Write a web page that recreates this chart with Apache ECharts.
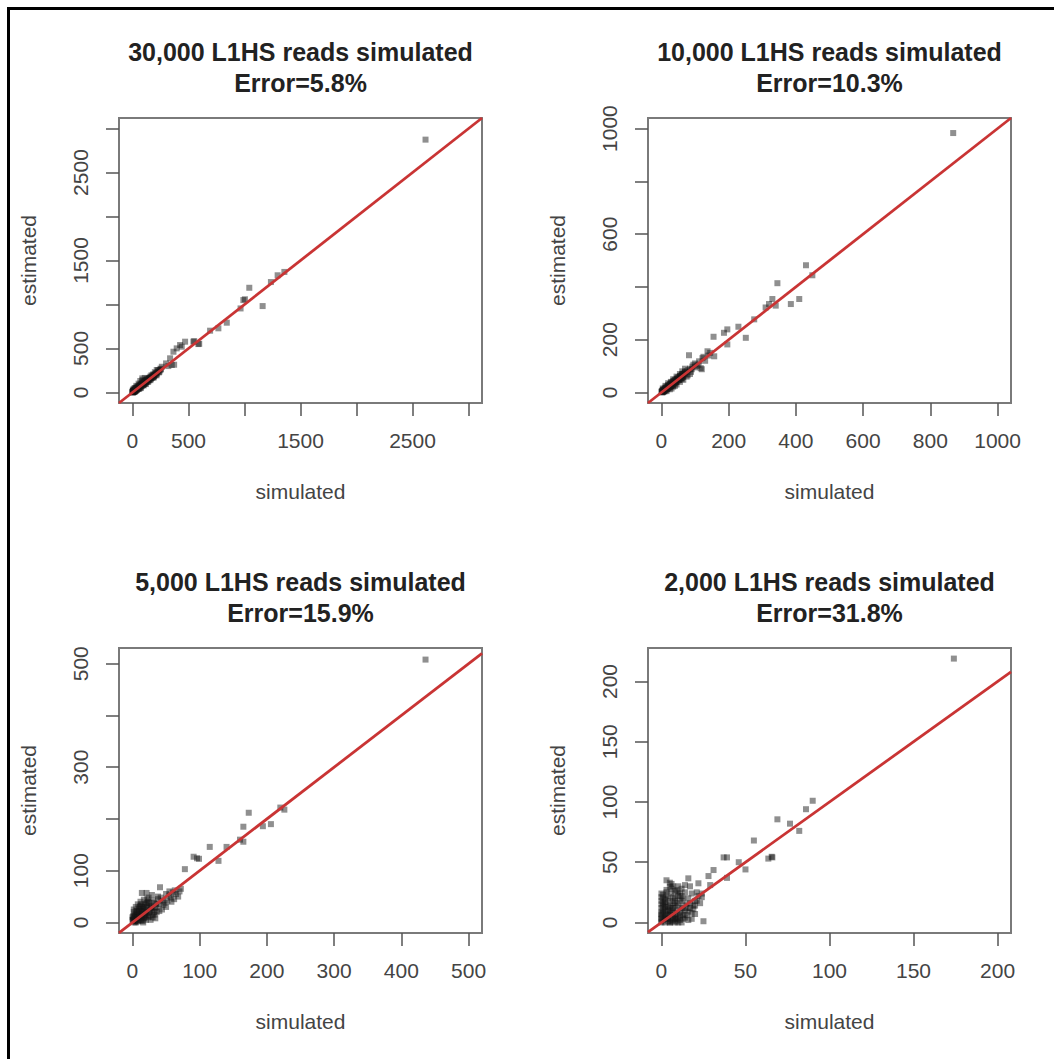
<!DOCTYPE html>
<html><head><meta charset="utf-8">
<script src="https://cdn.jsdelivr.net/npm/echarts@6/dist/echarts.min.js"></script>
<style>html,body{margin:0;padding:0;background:#fff}#c{width:1054px;height:1059px}</style>
</head><body><div id="c"></div>
<script>
// ---- Titles ----
const titleLine1 = ["30,000 L1HS reads simulated","10,000 L1HS reads simulated","5,000 L1HS reads simulated","2,000 L1HS reads simulated"];
const titleLine2 = ["Error=5.8%","Error=10.3%","Error=15.9%","Error=31.8%"];
const xName = "simulated";
const yName = "estimated";

// ---- Axis ticks / labels ----
const ticks1 = [0,500,1000,1500,2000,2500,3000];
const labels1 = [0,500,1500,2500];
const ticks2 = [0,200,400,600,800,1000];
const labels2x = [0,200,400,600,800,1000];
const labels2y = [0,200,600,1000];
const ticks3 = [0,100,200,300,400,500];
const labels3x = [0,100,200,300,400,500];
const labels3y = [0,100,300,500];
const ticks4 = [0,50,100,150,200];
const labels4 = [0,50,100,150,200];

// ---- Axis ranges ----
const xRange1 = [-120,3120], yRange1 = [-120,3120];
const xRange2 = [-40,1040],  yRange2 = [-40,1040];
const xRange3 = [-20,520],   yRange3 = [-20.4,530.4];
const xRange4 = [-8,208],    yRange4 = [-8.76,227.8];

// ---- Data: panel 1 (30,000 reads) ----
const sim30k = [2616,1236,1296,1356,1043,1004,990,965,1162,842,767,693,596,588,551,544,470,425,395,366,440,351,372,336,320,300,262,250,240,230,217,210,200,195,185,180,170,165,160,150,145,140,130,125,120,115,110,105,100,95,90,88,85,80,75,70,65,60,55,50,48,45,40,38,35,30,28,25,22,20,18,15,12,10,8,6,5,3,2,1,4,0,10,20,35,55,70,90,110,60,75,100,120,140,160,190,215,
  3,7,11,14,17,21,24,27,31,34,37,42,46,52,57,63,67,72,78,83,87,93,98,103,108,113,118,123,128,133,138,143,148,153,158,163,168,173,178,183,188,193,198,205,212,220,228,236,245,255];
const est30k = [2874,1255,1332,1370,1190,1059,1050,955,982,793,729,702,553,550,583,577,577,539,501,463,520,312,315,388,300,330,292,270,235,255,255,215,230,190,205,170,195,160,180,165,140,160,150,120,140,130,100,125,110,85,115,160,95,70,100,80,55,85,65,40,70,50,30,60,45,20,50,35,10,30,15,25,5,20,12,3,15,8,2,10,25,0,40,50,75,100,130,140,165,40,50,80,95,120,140,170,195,
  6,2,16,9,22,14,28,20,36,26,41,36,50,47,60,58,72,66,82,77,93,88,104,97,114,106,124,116,135,126,146,136,154,146,166,156,175,166,186,176,197,185,206,198,220,214,238,228,252,262];

// ---- Data: panel 2 (10,000 reads) ----
const sim10k = [868,430,449,345,410,385,330,320,340,310,276,229,251,196,186,196,155,157,137,122,112,82,92,117,120,90,65,100,105,95,85,80,75,70,68,62,60,58,55,52,50,48,45,42,40,38,35,32,30,28,25,22,20,18,15,12,10,8,6,5,3,2,1,0,4,12,20,28,35,45,55,15,25,35,45,55,65,75,85,70,62,110,130,140,145,125,100,78,88,60,40,30,
  2,4,6,8,10,12,14,16,18,20,22,24,26,28,30,33,36,39,42,45,48,51,54,57,60,63,66,70,5,9,13,17,21,25,29,34,38,43,47,52,56,61,65];
const est10k = [983,482,444,414,354,335,354,335,329,322,277,249,207,239,226,182,211,137,156,130,118,141,98,92,88,88,60,110,100,105,90,85,80,78,70,70,65,55,62,50,58,45,52,40,48,35,42,30,38,25,32,20,28,15,22,10,18,5,12,2,8,0,5,2,15,25,35,40,50,60,70,5,12,22,30,40,48,60,70,90,80,105,120,140,150,135,95,65,78,50,25,15,
  4,1,9,6,13,9,17,13,22,17,26,21,30,24,33,31,41,35,46,41,53,47,58,54,65,60,72,73,9,4,16,12,25,20,34,27,44,38,52,48,61,55,69];

// ---- Data: panel 3 (5,000 reads) ----
const sim5k = [436,173,165,194,206,220,226,165,160,140,115,128,96,91,99,78,41,21,14,29,50,55,60,65,68,62,57,52,48,45,40,38,35,32,30,28,25,22,20,18,15,14,12,10,8,7,5,4,3,2,1,0,2,5,8,10,12,15,18,22,25,30,33,36,40,44,46,27,20,16,24,34,55,63,70,72,58,50,42,38,9,6,3,1,0,11,17,13,
  1,2,3,4,5,6,7,8,9,10,11,12,13,14,15,16,17,18,19,20,21,22,23,24,26,28,30,32,34,36,3,6,9,12,15,18,21,24,27,30];
const est5k = [508,212,185,186,190,222,218,156,160,146,146,119,124,127,123,103,68,57,57,53,55,60,58,55,50,45,48,42,38,42,35,45,30,38,25,32,20,28,15,22,10,18,5,14,2,10,0,8,15,20,5,10,25,30,35,25,40,30,35,45,38,10,15,20,22,25,34,5,5,0,12,8,52,62,60,65,40,30,48,50,20,15,3,12,5,30,44,22,
  3,8,12,2,18,6,22,13,9,27,16,4,35,12,20,26,8,30,14,24,34,18,40,10,22,30,42,20,28,36,0,22,4,32,3,10,38,48,28,15];

// ---- Data: panel 4 (2,000 reads) ----
const sim2k = [174,90,86,69,76.5,82,55,66,63.6,65.6,46,50,37,39,31,28,39,29,22,20,25,24,21,23,16,14,5,0,0,0,0,0,0,0,0,0,1,1,1,1,2,2,2,2,3,3,3,4,4,4,5,5,5,6,6,6,7,7,7,8,8,8,9,9,10,10,10,11,11,12,12,12,13,13,14,14,15,15,16,16,17,17,18,18,19,20,21,22,24,12,8,3,10,6,
  0,0,0,1,1,1,2,2,2,3,3,3,4,4,4,5,5,5,6,6,6,7,7,7,8,8,8,9,9,9,10,10,11,11,12,12,13,13,14,15,16,17,18,19,20,3,5,7,9,11];
const est2k = [219,101,94,85.6,82,76,68,54,53,54.5,50,44,54,54,43.5,38.5,37,31,32.5,7,1,21,18,16,36.6,31,29.6,0,3,6,9,12,15,18,21,24,2,8,14,20,0,5,11,17,3,9,22,1,6,13,0,10,18,4,8,24,2,12,16,0,6,20,3,10,0,14,22,5,8,0,12,18,3,20,10,25,6,15,2,20,12,30,8,24,14,18,25,22,24,28,26,27,30,32,
  1,4,7,10,16,23,4,13,19,6,15,25,3,10,20,0,7,14,1,12,28,5,9,21,3,14,18,1,7,16,4,25,2,19,9,22,6,14,4,12,9,16,3,11,14,35,33,30,27,24];

const FONT = "'Liberation Sans', Arial, Helvetica, sans-serif";
const panels = [
  {sim: sim30k, est: est30k, xr: xRange1, yr: yRange1, xt: ticks1, yt: ticks1, xl: labels1, yl: labels1},
  {sim: sim10k, est: est10k, xr: xRange2, yr: yRange2, xt: ticks2, yt: ticks2, xl: labels2x, yl: labels2y},
  {sim: sim5k,  est: est5k,  xr: xRange3, yr: yRange3, xt: ticks3, yt: ticks3, xl: labels3x, yl: labels3y},
  {sim: sim2k,  est: est2k,  xr: xRange4, yr: yRange4, xt: ticks4, yt: ticks4, xl: labels4, yl: labels4}
];
const gridPos = [
  {left: 119, top: 118}, {left: 648, top: 118},
  {left: 119, top: 648}, {left: 648, top: 648}
];
const GW = 363, GH = 285;

const grids = [], xAxes = [], yAxes = [], series = [], graphics = [];
graphics.push({type: 'rect', shape: {x: 8.5, y: 8.5, width: 1200, height: 1200},
  style: {fill: 'none', stroke: '#000', lineWidth: 3}, silent: true});

const plain = v => String(v);
panels.forEach((p, i) => {
  const g = gridPos[i];
  grids.push({left: g.left, top: g.top, width: GW, height: GH, show: true,
    borderColor: '#7a7a7a', borderWidth: 2, backgroundColor: 'transparent', containLabel: false});
  const tickStyle = {color: '#555', width: 1.5};
  const labStyle = {fontSize: 21, color: '#444', fontFamily: FONT, formatter: plain};
  const nameStyle = {fontSize: 21, color: '#444', fontFamily: FONT};
  xAxes.push({type: 'value', gridIndex: i, min: p.xr[0], max: p.xr[1],
    splitLine: {show: false}, axisLine: {show: false, onZero: false},
    axisTick: {show: true, length: 13, customValues: p.xt, lineStyle: tickStyle},
    axisLabel: Object.assign({customValues: p.xl, margin: 27, showMinLabel: true, showMaxLabel: true}, labStyle),
    name: xName, nameLocation: 'middle', nameGap: 78, nameTextStyle: nameStyle});
  yAxes.push({type: 'value', gridIndex: i, min: p.yr[0], max: p.yr[1],
    splitLine: {show: false}, axisLine: {show: false, onZero: false},
    axisTick: {show: true, length: 13, customValues: p.yt, lineStyle: tickStyle},
    axisLabel: Object.assign({customValues: p.yl, margin: 28, rotate: 90}, labStyle),
    name: yName, nameLocation: 'middle', nameGap: 80, nameTextStyle: nameStyle});
  series.push({type: 'scatter', xAxisIndex: i, yAxisIndex: i,
    data: p.sim.map((v, k) => [v, p.est[k]]),
    symbol: 'rect', symbolSize: 6, silent: true,
    itemStyle: {color: 'rgba(20,20,20,0.6)'}});
  series.push({type: 'line', xAxisIndex: i, yAxisIndex: i,
    data: [[p.xr[0], p.xr[0]], [p.xr[1], p.xr[1]]],
    symbol: 'none', silent: true, clip: true, z: 5,
    lineStyle: {color: '#c93434', width: 2.8}});
  const cx = g.left + GW / 2;
  graphics.push({type: 'text', x: cx, y: g.top - 66, silent: true,
    style: {text: titleLine1[i], align: 'center', verticalAlign: 'middle',
      fontSize: 25, fontWeight: 'bold', fontFamily: FONT, fill: '#222'}});
  graphics.push({type: 'text', x: cx, y: g.top - 35, silent: true,
    style: {text: titleLine2[i], align: 'center', verticalAlign: 'middle',
      fontSize: 25, fontWeight: 'bold', fontFamily: FONT, fill: '#222'}});
});

const chart = echarts.init(document.getElementById('c'), null, {renderer: 'svg'});
chart.setOption({
  animation: false,
  backgroundColor: '#fff',
  grid: grids, xAxis: xAxes, yAxis: yAxes, series: series,
  graphic: graphics
});
</script>
</body></html>
